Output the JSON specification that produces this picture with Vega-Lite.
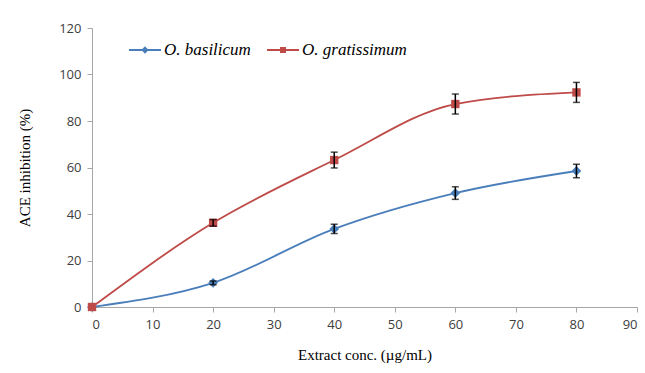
{
  "$schema": "https://vega.github.io/schema/vega-lite/v6.json",
  "width": 545,
  "height": 279,
  "autosize": "none",
  "padding": {"left": 92, "top": 28, "right": 8, "bottom": 66},
  "background": "white",
  "config": {"view": {"stroke": null}},
  "data": {
    "values": [
      {"conc": 0, "series": "O. basilicum", "ace": 0, "lo": 0, "hi": 0},
      {"conc": 20, "series": "O. basilicum", "ace": 10.4, "lo": 9.6, "hi": 11.2},
      {"conc": 40, "series": "O. basilicum", "ace": 33.6, "lo": 31.6, "hi": 35.6},
      {"conc": 60, "series": "O. basilicum", "ace": 49.0, "lo": 46.3, "hi": 51.7},
      {"conc": 80, "series": "O. basilicum", "ace": 58.5, "lo": 55.6, "hi": 61.4},
      {"conc": 0, "series": "O. gratissimum", "ace": 0, "lo": 0, "hi": 0},
      {"conc": 20, "series": "O. gratissimum", "ace": 36.2, "lo": 34.8, "hi": 37.6},
      {"conc": 40, "series": "O. gratissimum", "ace": 63.2, "lo": 59.8, "hi": 66.6},
      {"conc": 60, "series": "O. gratissimum", "ace": 87.3, "lo": 83.0, "hi": 91.6},
      {"conc": 80, "series": "O. gratissimum", "ace": 92.3, "lo": 88.0, "hi": 96.6}
    ]
  },
  "encoding": {
    "x": {
      "field": "conc", "type": "quantitative",
      "scale": {"domain": [0, 90], "nice": false},
      "axis": {
        "title": "Extract conc. (µg/mL)", "values": [0,10,20,30,40,50,60,70,80,90],
        "grid": false, "domainColor": "#A6A6A6", "tickColor": "#A6A6A6", "tickSize": 5,
        "labelFont": "Open Sans", "labelFontSize": 13, "labelColor": "#404040", "labelPadding": 6,
        "titleFont": "Liberation Serif", "titleFontSize": 15, "titleFontWeight": "normal", "titleColor": "#000000", "titlePadding": 16
      }
    },
    "y": {
      "field": "ace", "type": "quantitative",
      "scale": {"domain": [0, 120], "nice": false},
      "axis": {
        "title": "ACE inhibition (%)", "values": [0,20,40,60,80,100,120],
        "grid": false, "domainColor": "#A6A6A6", "tickColor": "#A6A6A6", "tickSize": 5,
        "labelFont": "Open Sans", "labelFontSize": 13, "labelColor": "#404040", "labelPadding": 6,
        "titleFont": "Liberation Serif", "titleFontSize": 15, "titleFontWeight": "normal", "titleColor": "#000000", "titlePadding": 26
      }
    }
  },
  "layer": [
    {
      "transform": [{"filter": "datum.series == 'O. basilicum'"}],
      "mark": {"type": "line", "interpolate": "monotone", "strokeWidth": 1.8, "color": "#4A7EBB"},
      "encoding": {}
    },
    {
      "transform": [{"filter": "datum.series == 'O. gratissimum'"}],
      "mark": {"type": "line", "interpolate": "monotone", "strokeWidth": 1.8, "color": "#BE4B48"},
      "encoding": {}
    },
    {
      "mark": {"type": "point", "filled": true, "size": 1024, "fillOpacity": 0, "strokeOpacity": 0},
      "encoding": {
        "color": {"field": "series", "type": "nominal", "scale": {"domain": ["O. basilicum", "O. gratissimum"], "range": ["#4A7EBB", "#BE4B48"]},
          "legend": {
            "title": null, "orient": "none", "legendX": 36, "legendY": 5, "direction": "horizontal",
            "columnPadding": 12, "labelFont": "Liberation Serif", "labelFontStyle": "italic", "labelFontSize": 17,
            "labelColor": "#000000", "labelOffset": 2, "symbolSize": 1024, "symbolStrokeWidth": 1.8,
            "encode": {"symbols": {"update": {"stroke": {"scale": "color", "field": "value"}, "opacity": {"value": 1}, "fillOpacity": {"value": 1}, "strokeOpacity": {"value": 1}}}}
          }
        },
        "shape": {"field": "series", "type": "nominal", "scale": {"domain": ["O. basilicum", "O. gratissimum"], "range": ["M-1,0H1M0,-0.15L0.15,0L0,0.15L-0.15,0Z", "M-1,0H1M-0.13,-0.13H0.13V0.13H-0.13Z"]}}
      }
    },
    {
      "transform": [{"filter": "datum.series == 'O. basilicum'"}],
      "mark": {"type": "point", "filled": true, "shape": "diamond", "size": 95, "color": "#4A7EBB", "opacity": 1}
    },
    {
      "transform": [{"filter": "datum.series == 'O. gratissimum'"}],
      "mark": {"type": "point", "filled": true, "shape": "square", "size": 70, "color": "#BE4B48", "opacity": 1}
    },
    {
      "transform": [{"filter": "datum.conc > 0"}],
      "mark": {"type": "errorbar", "ticks": {"size": 7, "color": "#000000", "thickness": 1.5}, "rule": {"color": "#000000", "strokeWidth": 1.5}},
      "encoding": {
        "y": {"field": "lo", "type": "quantitative"},
        "y2": {"field": "hi"}
      }
    }
  ]
}
